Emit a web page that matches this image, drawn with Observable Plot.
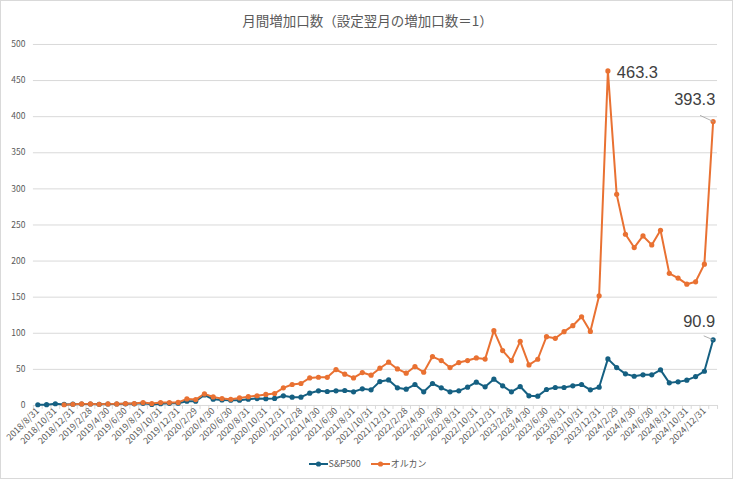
<!DOCTYPE html>
<html>
<head>
<meta charset="utf-8">
<script src="https://cdn.jsdelivr.net/npm/d3@7"></script>
<script src="https://cdn.jsdelivr.net/npm/@observablehq/plot@0.6"></script>
<style>
  html, body { margin: 0; padding: 0; background: #fff; }
  #chart { position: relative; width: 733px; height: 479px; box-sizing: border-box; border: 1px solid #d9d9d9; background: #fff; overflow: hidden; }
  #title { position: absolute; left: 0; top: 9px; width: 733px; text-align: center; font-family: "Noto Sans CJK JP", sans-serif; font-size: 13.5px; color: #595959; }
  #plot { position: absolute; left: -1px; top: 29px; }
  #legend { position: absolute; left: 0; top: 456px; width: 733px; display: flex; justify-content: center; gap: 10px; font-family: "Noto Sans CJK JP", sans-serif; font-size: 9px; color: #595959; }
  .item { display: flex; align-items: center; gap: 1px; }
</style>
</head>
<body>
<div id="chart">
  <div id="title">月間増加口数（設定翌月の増加口数＝1）</div>
  <div id="plot"></div>
  <div id="legend"></div>
</div>
<script>
const dates = [
  "2018/8/31","2018/9/30","2018/10/31","2018/11/30","2018/12/31",
  "2019/1/31","2019/2/28","2019/3/31","2019/4/30","2019/5/31","2019/6/30","2019/7/31","2019/8/31","2019/9/30","2019/10/31","2019/11/30","2019/12/31",
  "2020/1/31","2020/2/29","2020/3/31","2020/4/30","2020/5/31","2020/6/30","2020/7/31","2020/8/31","2020/9/30","2020/10/31","2020/11/30","2020/12/31",
  "2021/1/31","2021/2/28","2021/3/31","2021/4/30","2021/5/31","2021/6/30","2021/7/31","2021/8/31","2021/9/30","2021/10/31","2021/11/30","2021/12/31",
  "2022/1/31","2022/2/28","2022/3/31","2022/4/30","2022/5/31","2022/6/30","2022/7/31","2022/8/31","2022/9/30","2022/10/31","2022/11/30","2022/12/31",
  "2023/1/31","2023/2/28","2023/3/31","2023/4/30","2023/5/31","2023/6/30","2023/7/31","2023/8/31","2023/9/30","2023/10/31","2023/11/30","2023/12/31",
  "2024/1/31","2024/2/29","2024/3/31","2024/4/30","2024/5/31","2024/6/30","2024/7/31","2024/8/31","2024/9/30","2024/10/31","2024/11/30","2024/12/31",
  "2025/1/31"
];

const sp500 = [
  1, 1.1, 2.4, 1.5, 1.8,
  2.0, 2.0, 1.7, 2.0, 2.0, 2.3, 2.3, 3.0, 1.5, 2.5, 3.0, 3.2,
  5.8, 5.8, 14.5, 8.6, 7.7, 7.2, 7.2, 8.6, 9.6, 9.4, 9.7, 13.4,
  11.5, 11.5, 17, 20.3, 19.3, 20.3, 20.7, 18.9, 23, 21.6, 33.1, 35.4,
  24.4, 22.6, 29, 18.9, 30.4, 24.4, 18.9, 20.3, 25.3, 32.2, 25.8, 36.4,
  27.2, 18.9, 26.2, 13.4, 12.9, 22.1, 24.9, 24.9, 27.2, 29, 21.6, 25.3,
  64.5, 52.5, 43.8, 40.5, 42.4, 42.4, 49.3, 31.3, 32.7, 35, 40, 47.4,
  90.9
];

const orukan = [
  null, null, null, 1, 1.7,
  2.2, 2.2, 1.7, 2.2, 2.2, 2.6, 2.6, 4, 2.6, 4, 4, 4.2,
  9.1, 8.1, 16, 11.8, 9.5, 8.6, 10.4, 12.2, 13.5, 15.3, 16.6, 24.4,
  29, 30.4, 38.2, 39.1, 39, 49.7, 43.3, 38.2, 45.6, 41.9, 51.6, 59.9,
  50.6, 44.7, 53.9, 46, 67.7, 62.2, 52.5, 59.4, 62.2, 65.8, 64.2, 103.6,
  76, 62.2, 88.8, 56.2, 64, 95.3, 93, 102.2, 110.5, 122.9, 102.6, 151.9,
  463.3, 292.4, 237.1, 218.7, 234.8, 222.4, 242.6, 183, 176.4, 168, 171.3, 195.7,
  393.3
];

const seriesNames = ["S&P500", "オルカン"];
const seriesColors = ["#156082", "#E97132"];
const yTicks = [0, 50, 100, 150, 200, 250, 300, 350, 400, 450, 500];
const xTickLabels = dates.filter((d, i) => i % 2 === 0);

const rows = [];
dates.forEach((d, i) => {
  rows.push({date: d, series: seriesNames[0], value: sp500[i]});
  if (orukan[i] != null) rows.push({date: d, series: seriesNames[1], value: orukan[i]});
});

const last = dates.length - 1;
const peakIdx = orukan.indexOf(d3.max(orukan));
const labels = [
  {date: dates[peakIdx], value: orukan[peakIdx], text: String(orukan[peakIdx]), dx: 9, dy: 1.5, anchor: "start"},
  {date: dates[last], value: orukan[last], text: String(orukan[last]), dx: -18.5, dy: -21.5, anchor: "middle"},
  {date: dates[last], value: sp500[last], text: String(sp500[last]), dx: -14, dy: -18, anchor: "middle"}
];
const leaders = [
  {date: dates[last], value: orukan[last], len: 20, rot: 295},
  {date: dates[last], value: sp500[last], len: 14, rot: 293}
];

const lineShape = {draw(context, l) { context.moveTo(0, 0); context.lineTo(0, -l); }};

const color = {domain: seriesNames, range: seriesColors};

const chart = Plot.plot({
  width: 734,
  height: 421,
  marginLeft: 33,
  marginRight: 15,
  marginTop: 14,
  marginBottom: 45,
  style: {fontFamily: "'Noto Sans CJK JP', sans-serif", fontSize: "9px", color: "#595959", background: "transparent"},
  x: {type: "point", domain: dates, padding: 0.5},
  y: {domain: [0, 500]},
  color,
  marks: [
    Plot.ruleY(yTicks, {stroke: "#d9d9d9", strokeWidth: 1}),
    Plot.axisY({ticks: yTicks, tickSize: 0, tickPadding: 8, fill: "#595959", label: null, fontSize: 8.5}),
    Plot.axisX({ticks: dates, text: null, tickSize: 4, dx: -4.41, stroke: "#d9d9d9", label: null}),
    Plot.axisX({ticks: [dates[last]], text: null, tickSize: 4, dx: 4.41, stroke: "#d9d9d9", label: null}),
    Plot.axisX({ticks: xTickLabels, tickSize: 0, tickPadding: 4, tickRotate: -45, fill: "#595959", label: null, fontSize: 9}),
    Plot.line(rows, {x: "date", y: "value", z: "series", stroke: "series", strokeWidth: 2, curve: "linear"}),
    Plot.dot(rows, {x: "date", y: "value", fill: "series", r: 2.6, stroke: "none"}),
    Plot.vector(leaders, {x: "date", y: "value", length: "len", rotate: "rot", anchor: "start", shape: lineShape, stroke: "#a6a6a6", strokeWidth: 0.8}),
    ...labels.map(l => Plot.text([l], {x: "date", y: "value", text: "text", dx: l.dx, dy: l.dy, textAnchor: l.anchor, lineAnchor: "middle", fontSize: 16.5, fill: "#404040", fontFamily: "'Liberation Sans', Arial, sans-serif"}))
  ]
});
document.getElementById("plot").appendChild(chart);

const legend = document.getElementById("legend");
seriesNames.forEach((name, i) => {
  const item = document.createElement("div");
  item.className = "item";
  item.innerHTML = `<svg width="19" height="8"><line x1="0" y1="4" x2="19" y2="4" stroke="${seriesColors[i]}" stroke-width="2"/><circle cx="9.5" cy="4" r="2.6" fill="${seriesColors[i]}"/></svg><span>${name}</span>`;
  legend.appendChild(item);
});
</script>
</body>
</html>
